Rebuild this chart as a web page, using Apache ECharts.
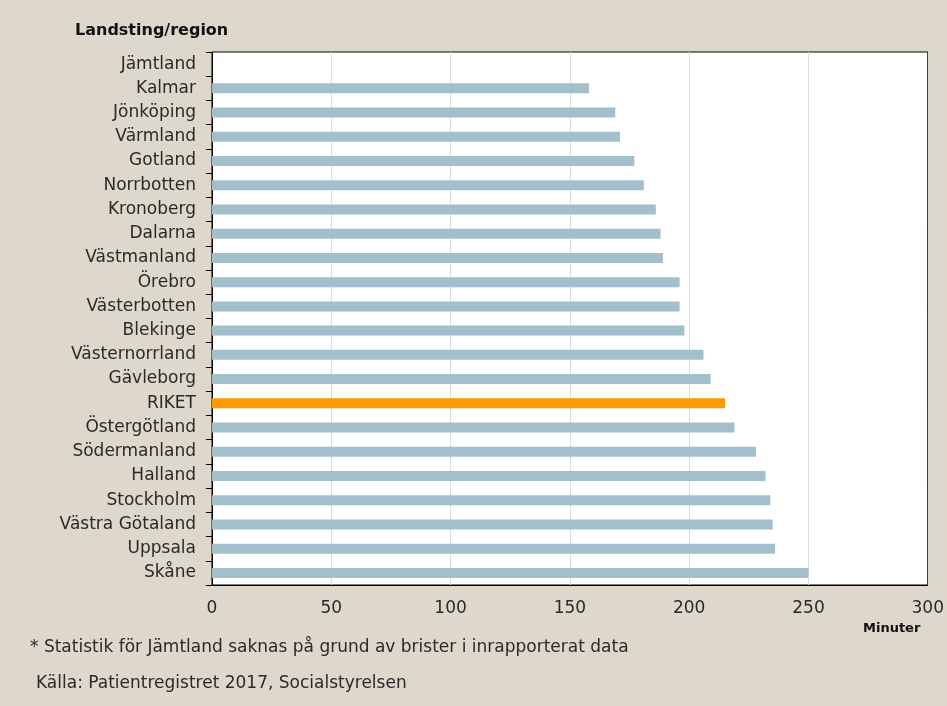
<!DOCTYPE html>
<html>
<head>
<meta charset="utf-8">
<script src="https://cdn.jsdelivr.net/npm/echarts@6/dist/echarts.min.js"></script>
<style>
  html, body { margin: 0; padding: 0; background: #ddd7cc; }
  #chart { width: 947px; height: 706px; }
</style>
</head>
<body>
<div id="chart"></div>
<script>
// landsting, uppifrån och ner
var regions = ["Jämtland", "Kalmar", "Jönköping", "Värmland", "Gotland", "Norrbotten",
  "Kronoberg", "Dalarna", "Västmanland", "Örebro", "Västerbotten", "Blekinge",
  "Västernorrland", "Gävleborg", "RIKET", "Östergötland", "Södermanland", "Halland",
  "Stockholm", "Västra Götaland", "Uppsala", "Skåne"];
// minuter (Jämtland saknas)
var minutes = [null, 158, 169, 171, 177, 181, 186, 188, 189, 196, 196, 198,
  206, 209, 215, 219, 228, 232, 234, 235, 236, 250];
var highlight = "RIKET";

var font = "'DejaVu Sans', sans-serif";

var barData = regions.map(function (r, i) {
  return {
    value: minutes[i],
    itemStyle: { color: r === highlight ? "#ff9900" : "#a3bfcb" }
  };
});

var chart = echarts.init(document.getElementById("chart"));
chart.setOption({
  backgroundColor: "#ddd7cc",
  animation: false,
  textStyle: { fontFamily: font },
  grid: {
    left: 212, right: 17, top: 52, bottom: 121,
    show: true, backgroundColor: "#fff", borderColor: "#000", borderWidth: 1
  },
  xAxis: {
    type: "value", min: 0, max: 300, interval: 50,
    axisLine: { show: true, lineStyle: { color: "#000" } },
    axisTick: { show: false },
    splitLine: { lineStyle: { color: "#dcdcdc" } },
    axisLabel: { color: "#2a2a2a", fontSize: 17, margin: 15, fontFamily: font }
  },
  yAxis: {
    type: "category", data: regions, inverse: true,
    axisLine: { show: true, lineStyle: { color: "#000" } },
    axisTick: { show: true, length: 6, lineStyle: { color: "#000" } },
    axisLabel: { color: "#2a2a2a", fontSize: 17, margin: 16, fontFamily: font }
  },
  series: [{
    type: "bar", data: barData, barWidth: 10
  }],
  graphic: [
    { type: "text", left: 75, top: 23,
      style: { text: "Landsting/region", font: "bold 16px " + font, fill: "#111" } },
    { type: "text", left: 863, top: 622,
      style: { text: "Minuter", font: "bold 13px " + font, fill: "#111" } },
    { type: "text", left: 30, top: 639,
      style: { text: "* Statistik för Jämtland saknas på grund av brister i inrapporterat data", font: "17px " + font, fill: "#2a2a2a" } },
    { type: "text", left: 36, top: 675,
      style: { text: "Källa: Patientregistret 2017, Socialstyrelsen", font: "17px " + font, fill: "#2a2a2a" } }
  ]
});
</script>
</body>
</html>
